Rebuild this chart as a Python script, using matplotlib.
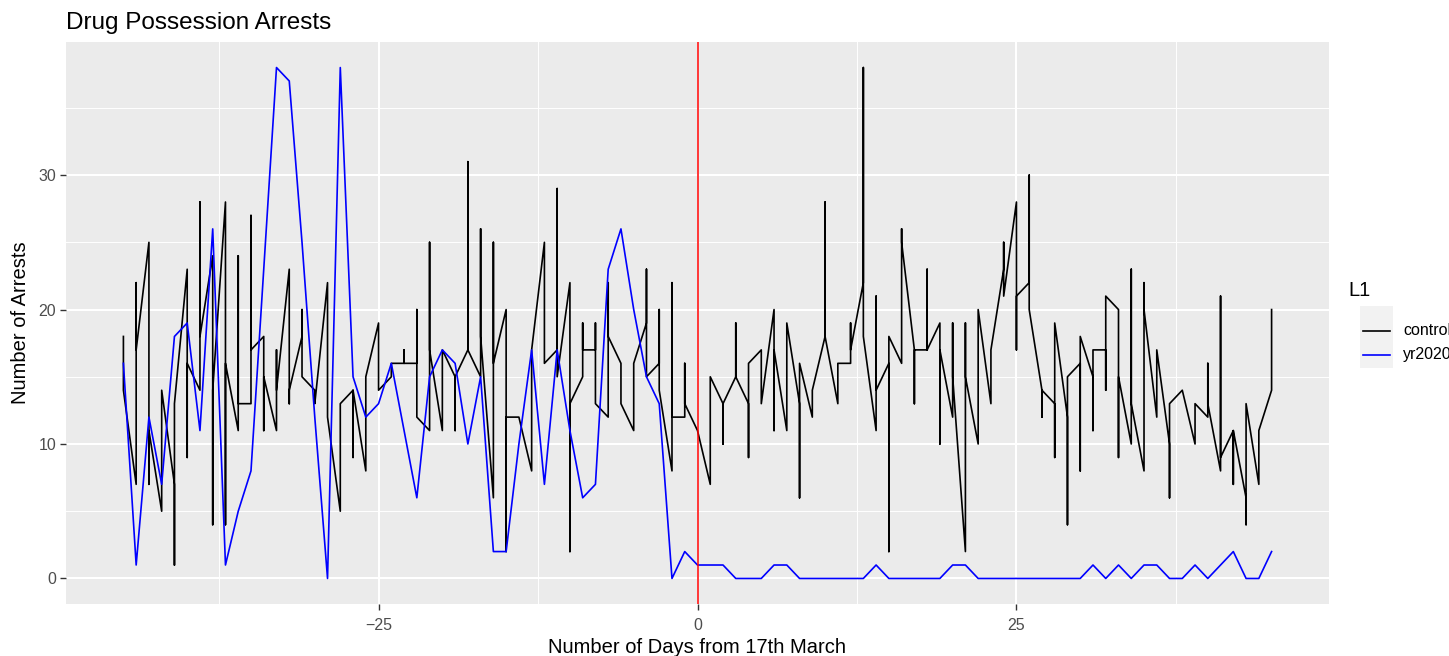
import matplotlib
matplotlib.use("Agg")
import matplotlib.pyplot as plt
from matplotlib.lines import Line2D
from matplotlib.patches import Rectangle

plt.rcParams["font.family"] = ["Liberation Sans", "DejaVu Sans"]

days = list(range(-45, 46))

# 2020 arrests, one value per day
yr2020 = [16, 1, 12, 7, 18, 19, 11, 26, 1, 5, 8, 23, 38, 37, 25, 12, 0, 38, 15, 12,
          13, 16, 11, 6, 15, 17, 16, 10, 15, 2, 2, 10, 17, 7, 17, 11, 6, 7, 23, 26,
          20, 15, 13, 0, 2, 1,
          1, 1, 0, 0, 0, 1, 1, 0, 0, 0, 0, 0, 0, 1, 0, 0, 0, 0, 0, 1, 1, 0, 0, 0,
          0, 0, 0, 0, 0, 0, 1, 0, 1, 0, 1, 1, 0, 0, 1, 0, 1, 2, 0, 0, 2]

# control years, several values per day (in drawing order)
control = [[18, 14], [7, 22, 17], [25, 7, 11], [5, 14, 14], [7, 1, 13],
           [23, 9, 16], [14, 28, 18], [24, 4, 14], [28, 4, 16], [11, 24, 13],
           [13, 27, 17], [18, 11, 15], [11, 17, 14], [23, 13, 14], [18, 20, 15],
           [14, 13], [22, 12], [5, 13], [14, 9, 14], [8, 15],
           [19, 14], [15, 16], [16, 17, 16], [16, 20, 12], [11, 25, 17],
           [11, 17], [15, 11, 15], [17, 31, 17], [15, 26, 18], [6, 25, 16],
           [20, 2, 12], [12, 12], [8, 17], [25, 16], [17, 29, 15],
           [22, 2, 13], [15, 19, 17], [17, 19, 13], [12, 22, 18], [16, 13],
           [11, 16], [19, 23, 15], [16, 20, 14], [8, 22, 12], [12, 16, 13],
           [11],
           [7, 15], [13, 10, 13], [15, 19, 15], [13, 9, 16], [17, 13],
           [20, 11, 17], [11, 19], [13, 6, 16], [12, 14], [18, 28, 18],
           [13, 16], [16, 19, 17], [22, 38, 18], [11, 21, 14], [16, 2, 18],
           [16, 26, 25], [17, 13, 17], [17, 23, 17], [19, 10, 17], [12, 19, 15],
           [2, 19, 15], [10, 20], [13, 17], [23, 25, 21], [28, 17, 21],
           [22, 30, 20], [14, 12, 14], [13, 9, 19], [12, 4, 15], [16, 8, 18],
           [15, 11, 17], [17, 14, 21], [20, 9, 15], [10, 23, 13], [8, 22, 20],
           [12, 17], [10, 6, 13], [14], [10, 13], [12, 16, 13],
           [8, 21, 9], [11, 7, 11], [6, 4, 13], [7, 11], [14, 20]]

cx = [d for d, vals in zip(days, control) for v in vals]
cy = [v for vals in control for v in vals]

W, H = 1449, 656
fig = plt.figure(figsize=(W / 100, H / 100), dpi=100)
ax = fig.add_axes([66 / W, 1 - 604 / H, (1329 - 66) / W, (604 - 42) / H])
ax.set_facecolor("#EBEBEB")

ax.plot(cx, cy, color="black", lw=1.2, zorder=3)
ax.plot(days, yr2020, color="#0000FF", lw=1.2, zorder=3)
ax.axvline(0, color="#FF0000", lw=1.1, zorder=4)

ax.set_xlim(-49.5, 49.5)
ax.set_ylim(-1.9, 39.9)
ax.set_xticks([-25, 0, 25])
ax.set_xticks([-37.5, -12.5, 12.5, 37.5], minor=True)
ax.set_yticks([0, 10, 20, 30])
ax.set_yticks([5, 15, 25, 35], minor=True)
ax.grid(which="major", color="white", lw=1.5)
ax.grid(which="minor", color="white", lw=0.7)
ax.set_axisbelow(True)
for s in ax.spines.values():
    s.set_visible(False)
ax.tick_params(which="major", length=4, width=1, color="#333333",
               labelsize=11.5, labelcolor="#4D4D4D", pad=3)
ax.tick_params(axis="x", which="major", pad=6)
ax.tick_params(which="minor", length=0)

ax.set_xlabel("Number of Days from 17th March", fontsize=14.5, labelpad=4)
ax.set_ylabel("Number of Arrests", fontsize=14.5, labelpad=6)
ax.set_title("Drug Possession Arrests", loc="left", fontsize=17.5, pad=9)

# legend
fig.text(1348 / W, 1 - 290 / H, "L1", fontsize=14.5, va="center", ha="left")
fig.add_artist(Rectangle((1360 / W, 1 - 368 / H), 33 / W, 62 / H,
                         transform=fig.transFigure, facecolor="#F2F2F2", edgecolor="none"))
for yy, col, lab in [(331, "black", "control"), (355, "#0000FF", "yr2020")]:
    fig.add_artist(Line2D([1363 / W, 1390 / W], [1 - yy / H, 1 - yy / H],
                          transform=fig.transFigure, color=col, lw=1.2))
    fig.text(1403 / W, 1 - yy / H, lab, fontsize=11.5, va="center", ha="left")

fig.savefig("out.png", dpi=100)
